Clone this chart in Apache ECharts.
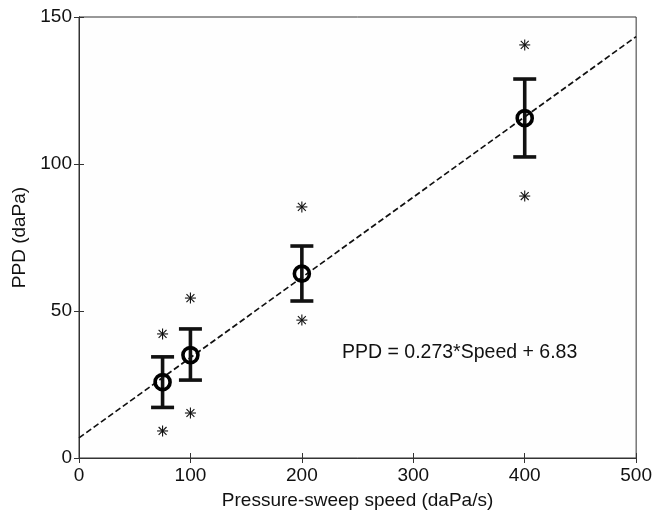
<!DOCTYPE html>
<html><head><meta charset="utf-8">
<script src="https://cdn.jsdelivr.net/npm/echarts@6/dist/echarts.min.js"></script>
<style>html,body{margin:0;padding:0;background:#fff}#c{width:655px;height:515px}</style>
</head><body><div id="c"></div>
<script>
const speeds = [75, 100, 200, 400];
const meanPPD = [25.8, 35.0, 62.7, 115.6];
const errLow = [17.2, 26.5, 53.4, 102.4];
const errHigh = [34.4, 43.9, 72.1, 128.9];
const starHigh = [42.2, 54.4, 85.4, 140.5];
const starLow = [9.2, 15.3, 46.9, 89.1];
const fitSlope = 0.273, fitIntercept = 6.83;
const fitX = [0, 500];
const xTicks = [0, 100, 200, 300, 400, 500];
const yTicks = [0, 50, 100, 150];
const eqText = 'PPD = 0.273*Speed + 6.83';

const chart = echarts.init(document.getElementById('c'));
const font = 'Liberation Sans, Arial, sans-serif';
const axisCommon = {
  axisLine: {show: true, lineStyle: {color: '#333', width: 1}},
  axisTick: {show: true, inside: true, length: 5, lineStyle: {color: '#333'}},
  splitLine: {show: false}
};
const errData = speeds.map((s, i) => [s, errLow[i], errHigh[i]]);
const starData = [];
speeds.forEach((s, i) => { starData.push([s, starHigh[i]]); starData.push([s, starLow[i]]); });
const fitData = fitX.map(x => [x, fitSlope * x + fitIntercept]);

chart.setOption({
  animation: false,
  backgroundColor: '#fff',
  grid: {left: 79, right: 18, top: 17, bottom: 57, show: true, backgroundColor: '#fefefe', borderColor: '#333', borderWidth: 1},
  xAxis: [
    Object.assign({type: 'value', min: 0, max: 500, interval: 100, position: 'bottom',
      name: 'Pressure-sweep speed (daPa/s)', nameLocation: 'middle', nameGap: 33,
      nameTextStyle: {fontFamily: font, fontSize: 19, color: '#111'},
      axisLabel: {fontFamily: font, fontSize: 19, color: '#111', margin: 8}}, axisCommon),
    Object.assign({type: 'value', min: 0, max: 500, interval: 100, position: 'top', axisLabel: {show: false}}, axisCommon)
  ],
  yAxis: [
    Object.assign({type: 'value', min: 0, max: 150, interval: 50, position: 'left',
      name: 'PPD (daPa)', nameLocation: 'middle', nameGap: 50,
      nameTextStyle: {fontFamily: font, fontSize: 19, color: '#111'},
      axisLabel: {fontFamily: font, fontSize: 19, color: '#111', margin: 7}}, axisCommon),
    Object.assign({type: 'value', min: 0, max: 150, interval: 50, position: 'right', axisLabel: {show: false}}, axisCommon)
  ],
  series: [
    {type: 'line', data: fitData, showSymbol: false, symbol: 'none',
      lineStyle: {color: '#111', width: 1.7, type: [6, 3]}, z: 2},
    {type: 'custom', data: errData, z: 3,
      renderItem: function (params, api) {
        const x = api.coord([api.value(0), api.value(1)])[0];
        const yl = api.coord([api.value(0), api.value(1)])[1];
        const yh = api.coord([api.value(0), api.value(2)])[1];
        const hw = 11.5;
        const st = {stroke: '#111', lineWidth: 3.6};
        return {type: 'group', children: [
          {type: 'line', shape: {x1: x, y1: yl, x2: x, y2: yh}, style: st},
          {type: 'line', shape: {x1: x - hw, y1: yl, x2: x + hw, y2: yl}, style: st},
          {type: 'line', shape: {x1: x - hw, y1: yh, x2: x + hw, y2: yh}, style: st}
        ]};
      }},
    {type: 'scatter', data: speeds.map((s, i) => [s, meanPPD[i]]), symbol: 'circle', symbolSize: 15,
      itemStyle: {color: 'rgba(0,0,0,0)', borderColor: '#000', borderWidth: 3.6, opacity: 1}, z: 4},
    {type: 'custom', data: starData, z: 4,
      renderItem: function (params, api) {
        const p = api.coord([api.value(0), api.value(1)]);
        const r = 5.5, d = r * 0.72;
        const st = {stroke: '#111', lineWidth: 1.1};
        return {type: 'group', children: [
          {type: 'line', shape: {x1: p[0], y1: p[1] - r, x2: p[0], y2: p[1] + r}, style: st},
          {type: 'line', shape: {x1: p[0] - r, y1: p[1], x2: p[0] + r, y2: p[1]}, style: st},
          {type: 'line', shape: {x1: p[0] - d, y1: p[1] - d, x2: p[0] + d, y2: p[1] + d}, style: st},
          {type: 'line', shape: {x1: p[0] - d, y1: p[1] + d, x2: p[0] + d, y2: p[1] - d}, style: st}
        ]};
      }}
  ],
  graphic: [{type: 'text', left: 342, top: 343, style: {text: eqText, font: '19.5px ' + font, fill: '#111'}}]
});
</script></body></html>
